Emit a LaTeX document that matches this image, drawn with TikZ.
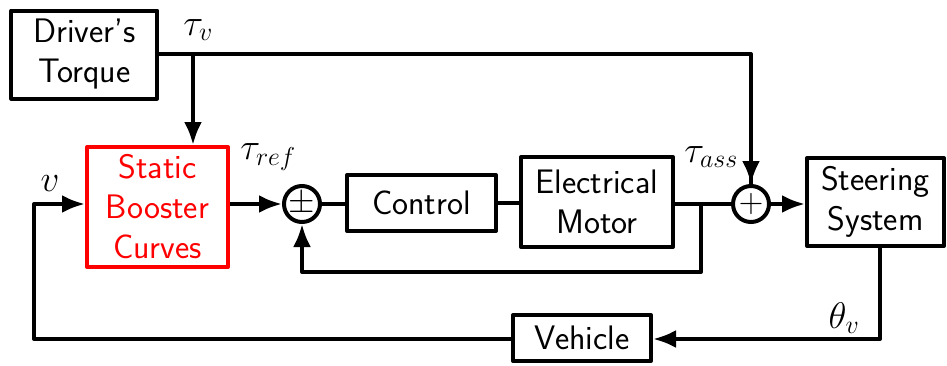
\RequirePackage{fix-cm}
\documentclass[tikz,border=0pt]{standalone}
\usetikzlibrary{arrows.meta}
\begin{document}
\begin{tikzpicture}[x=1pt,y=-1pt,
  every node/.style={font=\sffamily\fontsize{34}{40}\selectfont},
  blk/.style={draw, line width=4pt, rectangle, inner sep=0pt, align=center, line join=round},
  sumc/.style={draw, line width=4pt, circle, minimum size=36pt, inner sep=0pt},
  wire/.style={line width=4pt, line join=round},
  arr/.style={wire, -{Latex[length=23pt,width=18pt]}},
  lbl/.style={inner sep=0pt, font=\fontsize{37}{40}\selectfont}]
\useasboundingbox (0,0) rectangle (947,365);
% blocks
\node[blk, minimum width=146pt, minimum height=88pt] (drv) at (84.3,54.5) {Driver's\\Torque};
\node[blk, draw=red, text=red, minimum width=141pt, minimum height=120pt] (sbc) at (157.5,207) {Static\\Booster\\Curves};
\node[sumc] (s1) at (302,204) {$\pm$};
\node[blk, minimum width=149pt, minimum height=56pt] (ctl) at (421.5,203) {Control};
\node[blk, minimum width=152pt, minimum height=90pt] (mot) at (597,202) {Electrical\\Motor};
\node[sumc] (s2) at (751,204) {$+$};
\node[blk, minimum width=137pt, minimum height=88pt] (str) at (875.5,202) {Steering\\System};
\node[blk, minimum width=138pt, minimum height=46pt] (veh) at (582,338) {Vehicle};
% helper coordinates
\coordinate (tvb) at (193,54);
\coordinate (vl) at (34,339);
\coordinate (vu) at (34,204);
\coordinate (fb) at (701,204);
\coordinate (fbc) at (701,272);
\coordinate (sv) at (880,339);
% connectors
\draw[wire] (drv.east |- tvb) -| (s2.north);
\draw[arr] (s2.north |- 0,120) -- (s2.north);
\draw[arr] (tvb) -- (tvb |- sbc.north);
\draw[arr] (sbc.east |- s1.west) -- (s1.west);
\draw[wire] (s1.east) -- (ctl.west |- s1.east);
\draw[wire] (ctl.east) -- (mot.west |- ctl.east);
\draw[wire] (mot.east |- s2.west) -- (s2.west);
\draw[arr] (s2.east) -- (str.west |- s2.east);
\draw[arr] (fb) -- (fbc) -| (s1.south);
\draw[arr] (str.south -| sv) -- (sv) -- (veh.east |- sv);
\draw[arr] (veh.west |- vl) -- (vl) -- (vu) -- (sbc.west |- vu);
% labels
\node[lbl] (ltv) at (198,30) {$\tau_v$};
\node[lbl] (ltr) at (268,157) {$\tau_{ref}$};
\node[lbl] (lv) at (50,184) {$v$};
\node[lbl] (lta) at (711,157) {$\tau_{ass}$};
\node[lbl] (lth) at (844,318) {$\theta_v$};
\end{tikzpicture}
\end{document}
